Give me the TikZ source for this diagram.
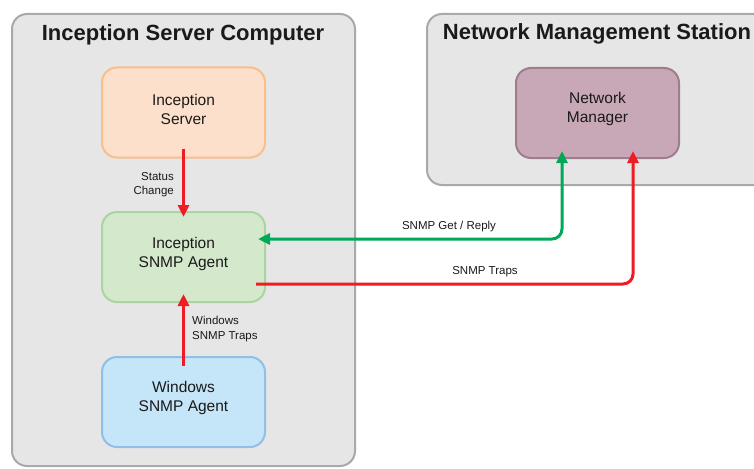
\documentclass[tikz,border=0pt]{standalone}
\usepackage{fontspec}
\setmainfont{Liberation Sans}
\usetikzlibrary{arrows.meta}
\definecolor{contfill}{HTML}{E6E6E6}
\definecolor{contdraw}{HTML}{A9A9A9}
\definecolor{srvfill}{HTML}{FCE0CB}
\definecolor{srvdraw}{HTML}{F8BE8C}
\definecolor{agfill}{HTML}{D4E8CC}
\definecolor{agdraw}{HTML}{A9D5A0}
\definecolor{winfill}{HTML}{C5E5F8}
\definecolor{windraw}{HTML}{91BFE6}
\definecolor{nmfill}{HTML}{C8A8B6}
\definecolor{nmdraw}{HTML}{A07D8D}
\definecolor{arrgreen}{HTML}{00A859}
\definecolor{arrred}{HTML}{EE1C25}
\definecolor{txt}{HTML}{1A1A1A}
\tikzset{
  container/.style={draw=contdraw, fill=contfill, line width=2pt, rounded corners=15pt},
  boxnode/.style={rounded corners=15pt, line width=2pt, minimum width=163pt, minimum height=90pt, inner sep=0pt},
  boxtext/.style={align=center, text=txt, font=\fontsize{15.5}{19}\selectfont, inner sep=0pt},
  title/.style={text=txt, font=\fontsize{22}{26}\selectfont\bfseries, inner sep=0pt},
  small/.style={text=txt, font=\fontsize{11.5}{14.5}\selectfont, inner sep=0pt},
  flow/.style={line width=3pt, rounded corners=10pt, arrows={-Triangle[length=12pt,width=11pt]}},
  flowboth/.style={line width=3pt, rounded corners=10pt, arrows={Triangle[length=12pt,width=11pt]-Triangle[length=12pt,width=11pt]}}
}
\begin{document}
\begin{tikzpicture}[x=1pt,y=-1pt]
\useasboundingbox (0,0) rectangle (754,468);
\clip (0,0) rectangle (754,468);
\fill[white] (0,0) rectangle (754,468);
% containers
\draw[container] (12,14) rectangle (355,466);
\draw[container] (427,14) rectangle (790,185);
\node[title] (t1) at (183,35) {Inception Server Computer};
\node[title] (t2) at (597,34) {Network Management Station};
% boxes
\node[boxnode, draw=srvdraw, fill=srvfill] (srv) at (183.5,112.5) {};
\node[boxnode, draw=agdraw, fill=agfill] (agent) at (183.5,257) {};
\node[boxnode, draw=windraw, fill=winfill] (win) at (183.5,402) {};
\node[boxnode, draw=nmdraw, fill=nmfill] (nm) at (597.5,113) {};
\node[boxtext] (srvt) at (183.5,109) {Inception\\Server};
\node[boxtext] (agentt) at (183.5,253.5) {Inception\\SNMP Agent};
\node[boxtext] (wint) at (183.5,398) {Windows\\SNMP Agent};
\node[boxtext] (nmt) at (597.5,109) {Network\\Manager};
% arrows
\draw[flow, draw=arrred] ([yshift=10pt]srv.south) -- ([yshift=-6pt]agent.north);
\draw[flow, draw=arrred] ([yshift=-10pt]win.north) -- ([yshift=9pt]agent.south);
\draw[flowboth, draw=arrgreen] ([xshift=-8pt,yshift=18pt]agent.east) -| ([xshift=-35.5pt,yshift=8pt]nm.south);
\draw[flow, draw=arrred] ([xshift=-10pt,yshift=-27pt]agent.east) -| ([xshift=35.5pt,yshift=8pt]nm.south);
% labels
\node[small, anchor=east, align=right] (l1) at (174,184.5) {Status\\Change};
\node[small, anchor=west, align=left] (l2) at (192,329) {Windows\\SNMP Traps};
\node[small] (l3) at (449,226.5) {SNMP Get / Reply};
\node[small] (l4) at (485,271.5) {SNMP Traps};
\end{tikzpicture}
\end{document}
